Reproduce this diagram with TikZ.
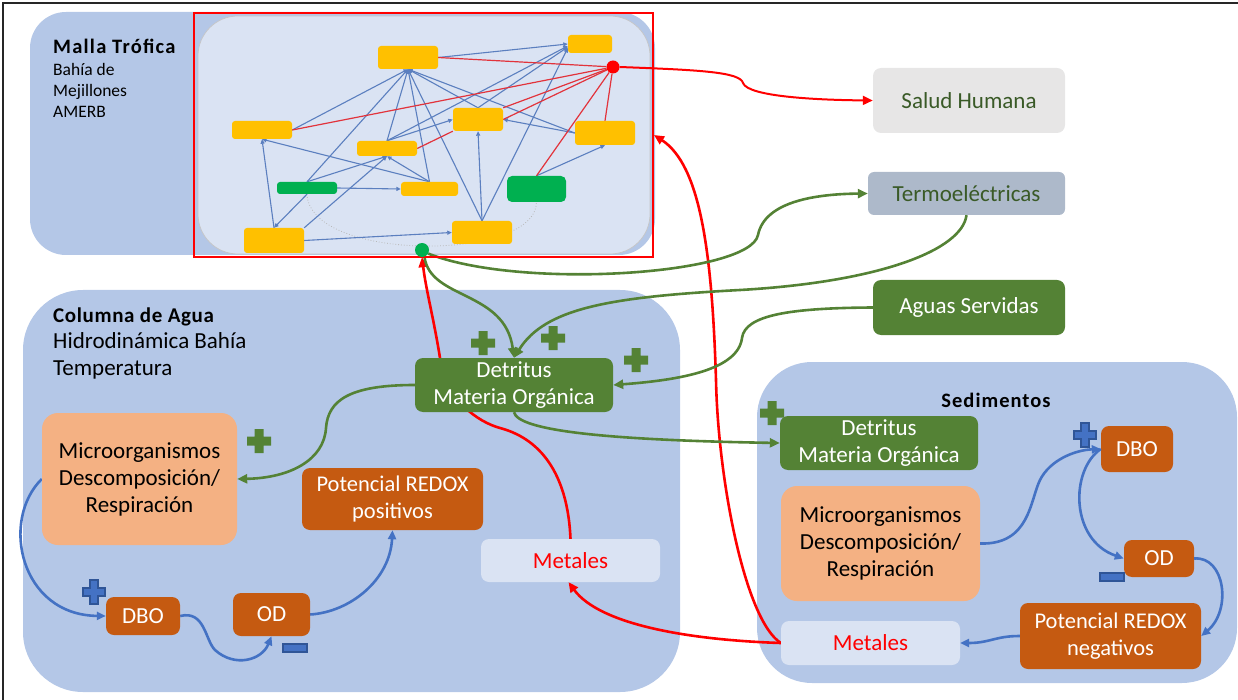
\documentclass[tikz,border=0pt]{standalone}
\usepackage{fontspec}
\setmainfont{Carlito}
\usetikzlibrary{arrows.meta,calc}

\definecolor{panelblue}{HTML}{B4C7E7}
\definecolor{lightpanel}{HTML}{DAE3F3}
\definecolor{leaf}{HTML}{548235}
\definecolor{rust}{HTML}{C55A11}
\definecolor{peach}{HTML}{F4B183}
\definecolor{gold}{HTML}{FFC000}
\definecolor{algae}{HTML}{00B050}
\definecolor{flow}{HTML}{4472C4}
\definecolor{flowdark}{HTML}{2F5597}
\definecolor{webblue}{HTML}{5B7FBF}
\definecolor{webred}{HTML}{E2333B}
\definecolor{softgray}{HTML}{E7E6E6}
\definecolor{slate}{HTML}{ADB9CA}
\definecolor{inkgreen}{HTML}{3A5A27}

\pgfdeclarelayer{panels}
\pgfdeclarelayer{links}
\pgfsetlayers{panels,links,main}

\tikzset{
  txt/.style={font=\fontsize{23}{27}\selectfont},
  label/.style={inner sep=0pt, anchor=base west},
  box/.style={rounded corners=8pt, inner sep=0pt, align=center, txt},
  redoxtxt/.style={font=\fontsize{22.5}{27}\selectfont},
  web/.style={rounded corners=3pt, inner sep=0pt, fill=gold},
  webalga/.style={rounded corners=3pt, inner sep=0pt, fill=algae},
  webline/.style={draw=webblue, line width=1.1pt, -{Triangle[length=4.5pt,width=4pt]}},
  webtoxic/.style={draw=webred, line width=1.2pt},
  redlink/.style={draw=red, line width=2.6pt, -{Triangle[length=10pt,width=9pt]}},
  greenlink/.style={draw=leaf, line width=2.6pt, -{Triangle[length=10pt,width=9pt]}},
  bluelink/.style={draw=flow, line width=2.6pt, -{Triangle[length=9pt,width=8pt]}},
  pics/greenplus/.style={code={
    \fill[leaf] (-4.5,-12) -- (4.5,-12) -- (4.5,-4.5) -- (12,-4.5) -- (12,4.5) -- (4.5,4.5)
      -- (4.5,12) -- (-4.5,12) -- (-4.5,4.5) -- (-12,4.5) -- (-12,-4.5) -- (-4.5,-4.5) -- cycle;}},
  pics/blueplus/.style={code={
    \filldraw[fill=flow, draw=flowdark, line width=1.2pt] (-4,-12) -- (4,-12) -- (4,-4) -- (11,-4) -- (11,4) -- (4,4)
      -- (4,12) -- (-4,12) -- (-4,4) -- (-11,4) -- (-11,-4) -- (-4,-4) -- cycle;}},
  pics/blueminus/.style={code={
    \filldraw[fill=flow, draw=flowdark, line width=1.2pt] (-12,-4) rectangle (12,4);}},
}

\begin{document}
\begin{tikzpicture}[x=1pt,y=-1pt]
\useasboundingbox (0,0) rectangle (1238,700);

% page rule
\draw[line width=2pt, black!85] (3,700) -- (3,3) -- (1238,3);

% background panels
\begin{pgfonlayer}{panels}
  \fill[panelblue, rounded corners=36pt] (30,12) rectangle (655,255);
  \filldraw[fill=lightpanel, draw=gray!45, line width=0.7pt, rounded corners=40pt] (198,16) rectangle (650,254);
  \fill[panelblue, rounded corners=60pt] (23,290) rectangle (680,692);
  \fill[panelblue, rounded corners=55pt] (757,362) rectangle (1237,683);
\end{pgfonlayer}

% titles
\node[label, font=\fontsize{20.5}{22}\selectfont\bfseries\addfontfeature{LetterSpace=6}] (mallatitle) at (53,54) {Malla Trófica};
\node[label, font=\fontsize{17.5}{21}\selectfont] (mallaA) at (53,76) {Bahía de};
\node[label, font=\fontsize{17.5}{21}\selectfont] (mallaB) at (53,97) {Mejillones};
\node[label, font=\fontsize{17.5}{21}\selectfont] (mallaC) at (53,118) {AMERB};
\node[label, font=\fontsize{21}{24}\selectfont\bfseries\addfontfeature{LetterSpace=3}] (aguatitle) at (53,322) {Columna de Agua};
\node[label, txt] (aguaA) at (53,348) {Hidrodinámica Bahía};
\node[label, txt] (aguaB) at (53,375) {Temperatura};
\node[inner sep=0pt, anchor=base, font=\fontsize{20.5}{23}\selectfont\bfseries\addfontfeature{LetterSpace=5}] (sedtitle) at (996,407) {Sedimentos};

% food web
\node[draw=red, line width=2pt, minimum width=459pt, minimum height=244pt, inner sep=0pt] (webframe) at (423.5,135) {};
\node[web, minimum width=60pt, minimum height=23pt] (wa) at (408,57.5) {};
\node[web, minimum width=44pt, minimum height=18pt] (wb) at (590,44) {};
\node[web, minimum width=60pt, minimum height=18pt] (wc) at (262,130) {};
\node[web, minimum width=50pt, minimum height=23pt] (wd) at (478,119.5) {};
\node[web, minimum width=60pt, minimum height=24pt] (we) at (605,133) {};
\node[web, minimum width=60pt, minimum height=15pt] (wf) at (387,148.5) {};
\node[webalga, minimum width=60pt, minimum height=12pt] (wg) at (307,188) {};
\node[web, minimum width=57pt, minimum height=14pt] (wh) at (429.5,189) {};
\node[webalga, rounded corners=5pt, minimum width=59pt, minimum height=26pt] (wi) at (536.5,189) {};
\node[web, minimum width=60pt, minimum height=25pt] (wj) at (274,240.5) {};
\node[web, minimum width=60pt, minimum height=23pt] (wk) at (482,232.5) {};
\node[circle, fill=red, minimum size=13pt, inner sep=0pt] (reddot) at (613,67) {};
\node[circle, fill=algae, minimum size=14pt, inner sep=0pt] (gdot) at (422,250) {};

\begin{pgfonlayer}{links}
  \draw[gray!55, line width=0.8pt, dotted] (wg.south) .. controls (310,262) and (536,262) .. (wi.south);
  % trophic links
  \draw[webline] (wa.east) -- (wb.west);
  \draw[webline] (wf.north) -- ([yshift=-2pt]wb.west);
  \draw[webline] (wd.north) -- ([yshift=-3pt]wb.west);
  \draw[webline] (wk.north) -- ([yshift=-4pt]wb.west);
  \draw[webline] (wc.east) -- (wa.south);
  \draw[webline] (wg.north) -- (wa.south);
  \draw[webline] (wf.north) -- (wa.south);
  \draw[webline] (wh.north) -- (wa.south);
  \draw[webline] (wk.north) -- (wa.south);
  \draw[webline] (wd.north) -- (wa.south);
  \draw[webline] (we.west) -- (wa.south);
  \draw[webline] (wf.north) -- (wd.west);
  \draw[webline] (wg.north) -- (wf.south);
  \draw[webline] (wj.north east) -- (wf.south);
  \draw[webline] (wh.north) -- (wf.south);
  \draw[webline] (wh.north) -- (wc.south);
  \draw[webline] (wj.north) -- (wc.south);
  \draw[webline] (wg.south) -- (wj.north);
  \draw[webline] (wg.east) -- (wh.west);
  \draw[webline] (wj.east) -- (wk.west);
  \draw[webline] (wk.north) -- (wd.south);
  \draw[webline] (we.west) -- (wd.east);
  \draw[webline] (wi.north) -- (we.south);
  % metal transfer
  \draw[webtoxic] (wa.east) -- (reddot);
  \draw[webtoxic] (wc.east) -- (reddot);
  \draw[webtoxic] (wd.east) -- (reddot);
  \draw[webtoxic] (wd.north east) -- (reddot);
  \draw[webtoxic] (wf.east) -- (wd.south west);
  \draw[webtoxic] (wi.north) -- (reddot);
  \draw[webtoxic] (we.north) -- (reddot);
\end{pgfonlayer}

% outside pressures
\node[box, fill=softgray, text=inkgreen, minimum width=192pt, minimum height=65pt] (salud) at (969,100.5) {Salud Humana};
\node[box, rounded corners=6pt, fill=slate, text=inkgreen, minimum width=197pt, minimum height=43pt] (termo) at (966.5,193.5) {Termoeléctricas};
\node[box, fill=leaf, text=white, minimum width=192pt, minimum height=55pt] (aguas) at (969,307.5) {Aguas Servidas};

% water column
\node[box, fill=leaf, text=white, minimum width=198pt, minimum height=54pt] (detw) at (514,385) {Detritus\\Materia Orgánica};
\node[box, rounded corners=16pt, fill=peach, minimum width=195pt, minimum height=132pt] (micw) at (139.5,479) {Microorganismos\\Descomposición/\\Respiración};
\node[box, redoxtxt, fill=rust, text=white, minimum width=181pt, minimum height=62pt] (redoxp) at (392.5,499) {Potencial REDOX\\positivos};
\node[box, fill=lightpanel, text=red, minimum width=179pt, minimum height=43pt] (metw) at (570.5,560.5) {Metales};
\node[box, fill=rust, text=white, minimum width=74pt, minimum height=38pt] (dbow) at (143,616) {DBO};
\node[box, fill=rust, text=white, minimum width=77pt, minimum height=43pt] (odw) at (271.5,614.5) {OD};

% sediments
\node[box, fill=leaf, text=white, minimum width=198pt, minimum height=54pt] (dets) at (879,443) {Detritus\\Materia Orgánica};
\node[box, rounded corners=16pt, fill=peach, minimum width=199pt, minimum height=115pt] (mics) at (880.5,543.5) {Microorganismos\\Descomposición/\\Respiración};
\node[box, fill=rust, text=white, minimum width=72pt, minimum height=46pt] (dbos) at (1137,449) {DBO};
\node[box, fill=rust, text=white, minimum width=70pt, minimum height=37pt] (ods) at (1159,558.5) {OD};
\node[box, redoxtxt, fill=rust, text=white, minimum width=181pt, minimum height=66pt] (redoxn) at (1110.5,636) {Potencial REDOX\\negativos};
\node[box, fill=lightpanel, text=red, minimum width=179pt, minimum height=44pt] (mets) at (870.5,643) {Metales};

% signs
\pic (gplusA) at (483,343) {greenplus};
\pic (gplusB) at (553,338) {greenplus};
\pic (gplusC) at (636,360) {greenplus};
\pic (gplusD) at (259,441) {greenplus};
\pic (gplusE) at (772,413) {greenplus};
\pic (bplusA) at (94,592) {blueplus};
\pic (bminusA) at (295,648) {blueminus};
\pic (bplusB) at (1085,435) {blueplus};
\pic (bminusB) at (1112,577) {blueminus};

\begin{pgfonlayer}{links}
  % metals
  \draw[redlink, line width=2pt] (reddot.east) .. controls (700,70) and (740,72) .. (743,83)
     .. controls (748,97) and (820,100) .. (salud.west);
  \draw[redlink] (metw.north) .. controls (568,480) and (545,440) .. (500,428)
     .. controls (478,422) and (446,400) .. (440,358) .. controls (434,320) and (426,290) .. (gdot.south);
  \draw[redlink] (mets.west) .. controls (690,640) and (600,625) .. ([xshift=-2pt]metw.south);
  \draw[redlink] (mets.west) .. controls (745,620) and (718,480) .. (716,380)
     .. controls (712,250) and (700,165) .. (webframe.east);
  % organic matter
  \draw[greenlink] (gdot.-30) .. controls (520,290) and (750,275) .. (758,235)
     .. controls (765,200) and (820,194) .. (termo.west);
  \draw[greenlink] (termo.south) .. controls (962,250) and (880,282) .. (740,290)
     .. controls (610,297) and (545,308) .. (detw.north);
  \draw[greenlink] (gdot.-70) .. controls (430,300) and (505,290) .. (detw.north);
  \draw[greenlink] (aguas.west) .. controls (790,308) and (745,315) .. (742,338)
     .. controls (738,370) and (680,380) .. (detw.east);
  \draw[greenlink] (detw.west) .. controls (350,385) and (328,400) .. (326,428)
     .. controls (324,460) and (290,478) .. (micw.east);
  \draw[greenlink] (detw.south) .. controls (518,430) and (600,440) .. (dets.west);
  % oxygen demand, water column
  \draw[bluelink] (micw.west) .. controls (0,520) and (20,615) .. (dbow.west);
  \draw[bluelink] (dbow.east) .. controls (205,610) and (205,640) .. (215,650)
     .. controls (235,668) and (262,660) .. (odw.south);
  \draw[bluelink] (odw.east) .. controls (350,612) and (390,580) .. (redoxp.south);
\end{pgfonlayer}

% oxygen demand, sediments (drawn over the boxes)
\draw[bluelink] (mics.east) .. controls (1030,545) and (1030,500) .. (1040,480)
   .. controls (1050,460) and (1075,450) .. (dbos.west);
\draw[bluelink] (dbos.west) .. controls (1070,470) and (1070,540) .. (ods.west);
\draw[bluelink] (ods.east) .. controls (1225,556) and (1232,610) .. (redoxn.east);
\draw[bluelink] (redoxn.west) .. controls (995,636) and (990,643) .. (mets.east);

\end{tikzpicture}
\end{document}
